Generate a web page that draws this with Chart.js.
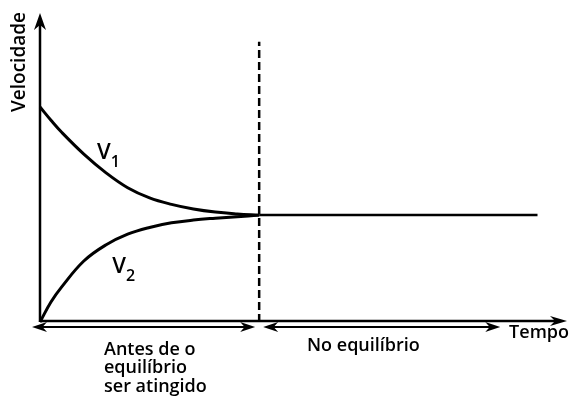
<!DOCTYPE html>
<html>
<head>
<meta charset="utf-8">
<script src="https://cdn.jsdelivr.net/npm/chart.js"></script>
<style>
  html, body { margin: 0; padding: 0; background: #fff; }
  #wrap { width: 569px; height: 402px; }
</style>
</head>
<body>
<div id="wrap"><canvas id="chart" width="569" height="402"></canvas></div>
<script>
// tempo (arbitrary units) and the two velocities before equilibrium
const tempo = [0, 0.5, 1, 2, 3, 4, 5, 6, 7, 8, 9, 10];
const v1 = [69.8, 65.5, 61.5, 54.5, 48.5, 43.6, 40.3, 38.2, 36.7, 35.7, 35.1, 34.7];
const v2 = [0, 6.5, 11.5, 19.8, 25.0, 28.5, 30.7, 32.2, 33.1, 33.7, 34.2, 34.7];

const tEquilibrio = 10;
const tFim = 22.7;
const vEquilibrio = 34.7;
const topoTracejado = 91;

const FONT = '"Open Sans", "DejaVu Sans", sans-serif';

function pts(xs, ys) {
  return xs.map((x, i) => ({ x, y: ys[i] }));
}

// notched arrow head, tip at (x, y), pointing along angle a
function arrowHead(ctx, x, y, a, len, half) {
  ctx.save();
  ctx.translate(x, y);
  ctx.rotate(a);
  ctx.beginPath();
  ctx.moveTo(0, 0);
  ctx.lineTo(-len, -half);
  ctx.lineTo(-len * 0.7, 0);
  ctx.lineTo(-len, half);
  ctx.closePath();
  ctx.fill();
  ctx.restore();
}

function doubleArrow(ctx, x1, x2, y) {
  ctx.beginPath();
  ctx.moveTo(x1 + 6, y);
  ctx.lineTo(x2 - 6, y);
  ctx.stroke();
  arrowHead(ctx, x1, y, Math.PI, 15, 5);
  arrowHead(ctx, x2, y, 0, 15, 5);
}

function labelSub(ctx, main, sub, px, py) {
  ctx.font = '600 22px ' + FONT;
  ctx.fillText(main, px, py);
  const w = ctx.measureText(main).width;
  ctx.font = '600 16px ' + FONT;
  ctx.fillText(sub, px + w, py + 8);
}

const decor = {
  id: 'decor',
  afterDatasetsDraw(chart) {
    const { ctx, scales: { x, y } } = chart;
    const x0 = x.getPixelForValue(0);
    const y0 = y.getPixelForValue(0);
    const xEq = x.getPixelForValue(tEquilibrio);
    const xMax = x.getPixelForValue(x.max);
    const yMax = y.getPixelForValue(y.max);

    ctx.save();
    ctx.strokeStyle = '#000';
    ctx.fillStyle = '#000';
    ctx.lineWidth = 2.5;
    ctx.lineCap = 'butt';

    // eixo y
    ctx.beginPath();
    ctx.moveTo(x0, y0);
    ctx.lineTo(x0, yMax + 10);
    ctx.stroke();
    arrowHead(ctx, x0, yMax - 1, -Math.PI / 2, 17, 6);

    // eixo x
    ctx.beginPath();
    ctx.moveTo(x0, y0 - 1);
    ctx.lineTo(xMax - 10, y0 - 1);
    ctx.stroke();
    arrowHead(ctx, xMax + 1, y0 - 1, 0, 17, 5);

    // faixas de tempo
    ctx.lineWidth = 2;
    doubleArrow(ctx, x0 - 8, xEq - 4, y0 + 5);
    doubleArrow(ctx, xEq + 4, x.getPixelForValue(21), y0 + 5);

    // textos
    ctx.textBaseline = 'alphabetic';
    ctx.textAlign = 'left';
    labelSub(ctx, 'V', '1', x.getPixelForValue(2.6), y.getPixelForValue(53));
    labelSub(ctx, 'V', '2', x.getPixelForValue(3.3), y.getPixelForValue(16));

    ctx.font = '600 18px ' + FONT;
    ctx.fillText('Antes de o', 104, 355);
    ctx.fillText('equilíbrio', 104, 373);
    ctx.fillText('ser atingido', 104, 392);
    ctx.fillText('No equilíbrio', 307, 351);
    ctx.textAlign = 'right';
    ctx.fillText('Tempo', 569, 338);

    ctx.save();
    ctx.translate(25, 62);
    ctx.rotate(-Math.PI / 2);
    ctx.textAlign = 'center';
    ctx.font = '600 19px ' + FONT;
    ctx.fillText('Velocidade', 0, 0);
    ctx.restore();

    ctx.restore();
  }
};

const line = {
  borderColor: '#000',
  borderWidth: 3,
  pointRadius: 0,
  fill: false,
  clip: false,
  tension: 0.4
};

new Chart(document.getElementById('chart'), {
  type: 'line',
  data: {
    datasets: [
      { ...line, label: 'V1', data: pts(tempo, v1) },
      { ...line, label: 'V2', data: pts(tempo, v2) },
      { ...line, label: 'equilíbrio', borderWidth: 2.5, tension: 0,
        data: pts([tEquilibrio, tFim], [vEquilibrio, vEquilibrio]) },
      { ...line, label: 'limite', borderWidth: 2.5, borderDash: [8, 4], tension: 0,
        data: pts([tEquilibrio, tEquilibrio], [0, topoTracejado]) }
    ]
  },
  options: {
    responsive: false,
    animation: false,
    layout: { padding: { left: 40, right: 3, top: 14, bottom: 80 } },
    plugins: { legend: { display: false }, tooltip: { enabled: false } },
    scales: {
      x: { type: 'linear', min: 0, max: 24, display: false },
      y: { min: 0, max: 100, display: false }
    }
  },
  plugins: [decor]
});
</script>
</body>
</html>
